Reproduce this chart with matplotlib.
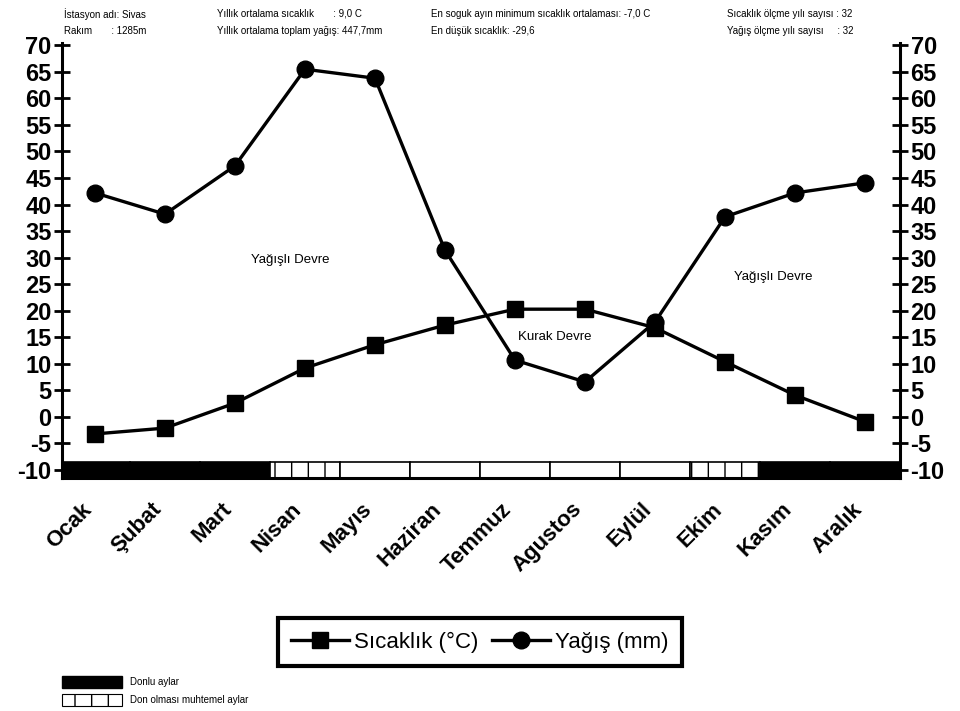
"""Sivas iklim grafiği (sıcaklık - yağış)"""

import matplotlib

matplotlib.use("Agg")
import matplotlib.pyplot as plt
import matplotlib.transforms as mtransforms
from matplotlib.patches import Rectangle

plt.rcParams["font.family"] = ["Liberation Sans", "DejaVu Sans"]
plt.rcParams["hatch.linewidth"] = 1.0
plt.rcParams["axes.unicode_minus"] = False

# Veriler
aylar = ["Ocak", "Şubat", "Mart", "Nisan", "Mayıs", "Haziran",
         "Temmuz", "Agustos", "Eylül", "Ekim", "Kasım", "Aralık"]
sicaklik = [-3.2, -2.1, 2.6, 9.2, 13.6, 17.3, 20.3, 20.3, 16.8, 10.4, 4.1, -0.9]
yagis = [42.2, 38.2, 47.3, 65.5, 63.8, 31.4, 10.7, 6.6, 17.9, 37.7, 42.2, 44.1]
# don durumu: "don" = donlu, "muhtemel" = don olması muhtemel, "yok" = donsuz
don = ["don", "don", "don", "muhtemel", "yok", "yok",
       "yok", "yok", "yok", "muhtemel", "don", "don"]
y_ticks = list(range(-10, 71, 5))

bilgi_satir1 = [
    "İstasyon adı: Sivas",
    "Yıllık ortalama sıcaklık       : 9,0 C",
    "En soguk ayın minimum sıcaklık ortalaması: -7,0 C",
    "Sıcaklık ölçme yılı sayısı : 32",
]
bilgi_satir2 = [
    "Rakım       : 1285m",
    "Yıllık ortalama toplam yağış: 447,7mm",
    "En düşük sıcaklık: -29,6",
    "Yağış ölçme yılı sayısı     : 32",
]

fig = plt.figure(figsize=(9.6, 7.11), dpi=100)
ax = fig.add_axes([0.0646, 0.3277, 0.873, 0.6123])

x = list(range(len(aylar)))

# Don çubuğu
renk = {"don": "black", "muhtemel": "white", "yok": "white"}
tarama = {"don": None, "muhtemel": "|", "yok": None}
for i, d in enumerate(don):
    ax.bar(i, 3, bottom=-11.5, width=1, color=renk[d], edgecolor="black",
           hatch=tarama[d], linewidth=1.2, zorder=2)

# Çizgiler
ax.plot(x, sicaklik, color="black", linewidth=2.4, marker="s", markersize=12,
        label="Sıcaklık (°C)", zorder=3)
ax.plot(x, yagis, color="black", linewidth=2.4, marker="o", markersize=12,
        label="Yağış (mm)", zorder=3)

ax.set_xlim(-0.47, 11.5)
ax.set_ylim(-11.5, 70.5)

# Eksenler
ax.spines["top"].set_visible(False)
for s in ["left", "right", "bottom"]:
    ax.spines[s].set_linewidth(2.2)
ax.set_yticks(y_ticks)
ax.tick_params(axis="y", which="both", left=True, right=True,
               labelleft=True, labelright=True, direction="inout",
               length=11, width=2, labelsize=17, pad=2)
for lbl in ax.get_yticklabels():
    lbl.set_fontweight("bold")

ax.set_xticks(x)
ax.set_xticklabels(aylar, rotation=45, ha="right", va="top",
                   rotation_mode="anchor", fontsize=16, fontweight="bold")
ax.tick_params(axis="x", length=0, pad=15)
kayma = mtransforms.ScaledTranslation(-10 / 72, 0, fig.dpi_scale_trans)
for lbl in ax.get_xticklabels():
    lbl.set_transform(lbl.get_transform() + kayma)

# Devre yazıları
ax.text(2.79, 29.6, "Yağışlı Devre", fontsize=9.5, ha="center", va="center")
ax.text(6.57, 15.1, "Kurak Devre", fontsize=9.5, ha="center", va="center")
ax.text(9.69, 26.4, "Yağışlı Devre", fontsize=9.5, ha="center", va="center")

# Üst bilgi
kolon_x = [64, 217, 431, 727]
for xp, t in zip(kolon_x, bilgi_satir1):
    fig.text(xp / 960, 1 - 14 / 711, t, fontsize=7, va="center")
for xp, t in zip(kolon_x, bilgi_satir2):
    fig.text(xp / 960, 1 - 31 / 711, t, fontsize=7, va="center")

# Lejant
leg = fig.legend(loc="center", bbox_to_anchor=(0.5, 1 - 642 / 711), ncol=2,
                 fontsize=16, frameon=True, fancybox=False, edgecolor="black",
                 framealpha=1, handlelength=2.6, columnspacing=0.6,
                 handletextpad=0.25, borderpad=0.6, borderaxespad=0)
leg.get_frame().set_linewidth(3)

# Don lejantı
fig.patches.append(Rectangle((62 / 960, 1 - 688 / 711), 60 / 960, 12 / 711,
                             transform=fig.transFigure, facecolor="black",
                             edgecolor="black"))
fig.patches.append(Rectangle((62 / 960, 1 - 706 / 711), 60 / 960, 12 / 711,
                             transform=fig.transFigure, facecolor="white",
                             edgecolor="black", hatch="|", linewidth=0.8))
fig.text(130 / 960, 1 - 682 / 711, "Donlu aylar", fontsize=7, va="center")
fig.text(130 / 960, 1 - 700 / 711, "Don olması muhtemel aylar", fontsize=7,
         va="center")

plt.savefig("out.png", dpi=100)
plt.close()
